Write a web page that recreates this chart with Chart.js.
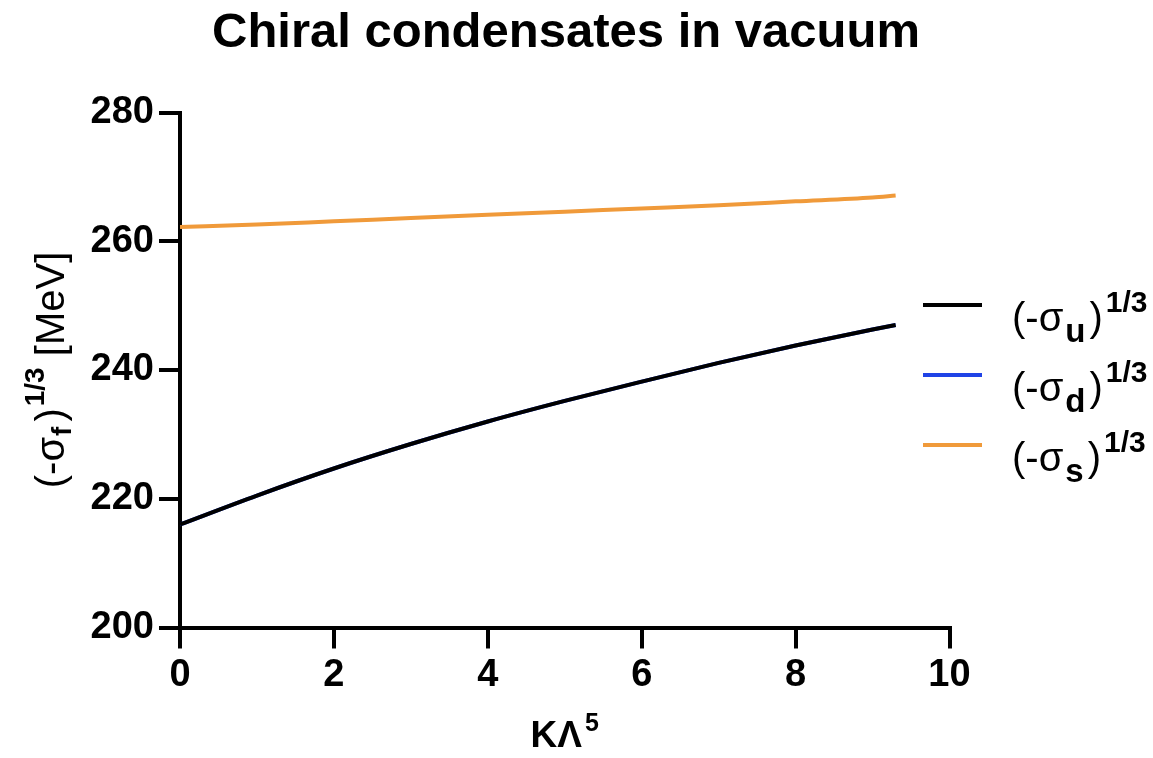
<!DOCTYPE html>
<html>
<head>
<meta charset="utf-8">
<script src="https://cdn.jsdelivr.net/npm/chart.js@4.4.1/dist/chart.umd.min.js"></script>
<style>
  html, body { margin: 0; padding: 0; background: #ffffff; }
  #wrap { position: relative; width: 1153px; height: 758px; }
  canvas { display: block; }
</style>
</head>
<body>
<div id="wrap"><canvas id="c" width="1153" height="758"></canvas></div>
<script>
// ---- data ----
const kLambda5 = [0, 1, 2, 3, 4, 5, 6, 7, 8, 9, 9.3];
const sigmaU = [216.0, 220.5, 224.7, 228.5, 232.0, 235.2, 238.2, 241.1, 243.8, 246.3, 247.0];
const sigmaD = [216.0, 220.5, 224.7, 228.5, 232.0, 235.2, 238.2, 241.1, 243.8, 246.3, 247.0];
const sigmaS = [262.2, 262.6, 263.1, 263.6, 264.1, 264.6, 265.1, 265.6, 266.2, 266.8, 267.1];
const flavours = ['u', 'd', 's'];
const xTicks = [0, 2, 4, 6, 8, 10];
const yTicks = [200, 220, 240, 260, 280];
const chartTitle = 'Chiral condensates in vacuum';
const xTitleMain = 'KΛ';
const xTitleSup = '5';
const yTitleParts = ['(-σ', 'f', ')', '1/3', ' [MeV]'];
const legendParts = ['(-σ', ')', '1/3'];

const FONT = '"Liberation Sans", Arial, Helvetica, sans-serif';
const colors = ['#000000', '#2043E6', '#F09A3A'];
const seriesValues = [sigmaU, sigmaD, sigmaS];

function toPoints(xs, ys) { return xs.map((x, i) => ({ x: x, y: ys[i] })); }

function richWidth(ctx, segs) {
  let w = 0;
  for (const s of segs) { ctx.font = s.font; w += ctx.measureText(s.text).width + (s.gap || 0); }
  return w;
}
function drawRich(ctx, segs, x, y) {
  let cx = x;
  for (const s of segs) {
    ctx.font = s.font;
    ctx.fillText(s.text, cx, y + (s.dy || 0));
    cx += ctx.measureText(s.text).width + (s.gap || 0);
  }
}

const textPlugin = {
  id: 'textPlugin',
  afterDraw(chart) {
    const ctx = chart.ctx;
    const area = chart.chartArea;
    const cx = (area.left + area.right) / 2;
    ctx.save();
    ctx.fillStyle = '#000';
    ctx.textAlign = 'left';
    ctx.textBaseline = 'alphabetic';

    // title
    ctx.font = 'bold 49px ' + FONT;
    const tw = ctx.measureText(chartTitle).width;
    ctx.fillText(chartTitle, 566 - tw / 2, 47);

    // x title
    const xs = [
      { text: xTitleMain, font: 'bold 37px ' + FONT, gap: 3 },
      { text: xTitleSup, font: 'bold 25px ' + FONT, dy: -16 }
    ];
    const xw = richWidth(ctx, xs);
    drawRich(ctx, xs, cx - xw / 2, 747);

    // y title (rotated)
    const ys = [
      { text: yTitleParts[0], font: '40px ' + FONT, gap: 1 },
      { text: yTitleParts[1], font: 'bold 28px ' + FONT, dy: 7, gap: 5 },
      { text: yTitleParts[2], font: '40px ' + FONT, gap: 2 },
      { text: yTitleParts[3], font: 'bold 28px ' + FONT, dy: -20 },
      { text: yTitleParts[4], font: '40px ' + FONT }
    ];
    const yw = richWidth(ctx, ys);
    ctx.translate(64, (area.top + area.bottom) / 2);
    ctx.rotate(-Math.PI / 2);
    drawRich(ctx, ys, -yw / 2, 0);
    ctx.restore();

    // legend
    ctx.save();
    chart.data.datasets.forEach((ds, i) => {
      const ly = 305 + i * 70;
      ctx.strokeStyle = ds.borderColor;
      ctx.lineWidth = 4;
      ctx.lineCap = 'butt';
      ctx.beginPath();
      ctx.moveTo(923, ly);
      ctx.lineTo(982, ly);
      ctx.stroke();
      ctx.fillStyle = '#000';
      const segs = [
        { text: legendParts[0], font: '40px ' + FONT, gap: 2 },
        { text: flavours[i], font: 'bold 33px ' + FONT, dy: 11, gap: 4 },
        { text: legendParts[1], font: '40px ' + FONT, gap: 3 },
        { text: legendParts[2], font: 'bold 30px ' + FONT, dy: -19 }
      ];
      drawRich(ctx, segs, 1012, ly + 26);
    });
    ctx.restore();
  }
};

const axisCommon = {
  grid: { display: true, drawOnChartArea: false, drawTicks: true, tickLength: 21, tickWidth: 4, tickColor: '#000', color: '#000', lineWidth: 4 },
  border: { display: true, color: '#000', width: 4 }
};

new Chart(document.getElementById('c'), {
  type: 'line',
  data: {
    datasets: seriesValues.map((vals, i) => ({
      label: '(-σ' + flavours[i] + ')^1/3',
      data: toPoints(kLambda5, vals),
      borderColor: colors[i],
      backgroundColor: colors[i],
      borderWidth: 4,
      pointRadius: 0,
      fill: false,
      cubicInterpolationMode: 'monotone'
    }))
  },
  options: {
    responsive: false,
    animation: false,
    devicePixelRatio: 1,
    layout: { padding: { left: 0, right: 203.5, top: 112.5, bottom: 0 } },
    plugins: { legend: { display: false }, title: { display: false }, tooltip: { enabled: false } },
    scales: {
      x: Object.assign({
        type: 'linear', min: 0, max: 10,
        afterBuildTicks: s => { s.ticks = xTicks.map(v => ({ value: v })); },
        afterFit: s => { s.height = 758 - 627.5; },
        ticks: { color: '#000', font: { family: FONT, size: 38, weight: 'bold' }, padding: 4, maxRotation: 0, autoSkip: false }
      }, axisCommon),
      y: Object.assign({
        type: 'linear', min: 200, max: 280,
        afterBuildTicks: s => { s.ticks = yTicks.map(v => ({ value: v })); },
        afterFit: s => { s.width = 180; },
        ticks: { color: '#000', font: { family: FONT, size: 38, weight: 'bold' }, padding: 5, autoSkip: false }
      }, axisCommon)
    }
  },
  plugins: [textPlugin]
});
</script>
</body>
</html>
